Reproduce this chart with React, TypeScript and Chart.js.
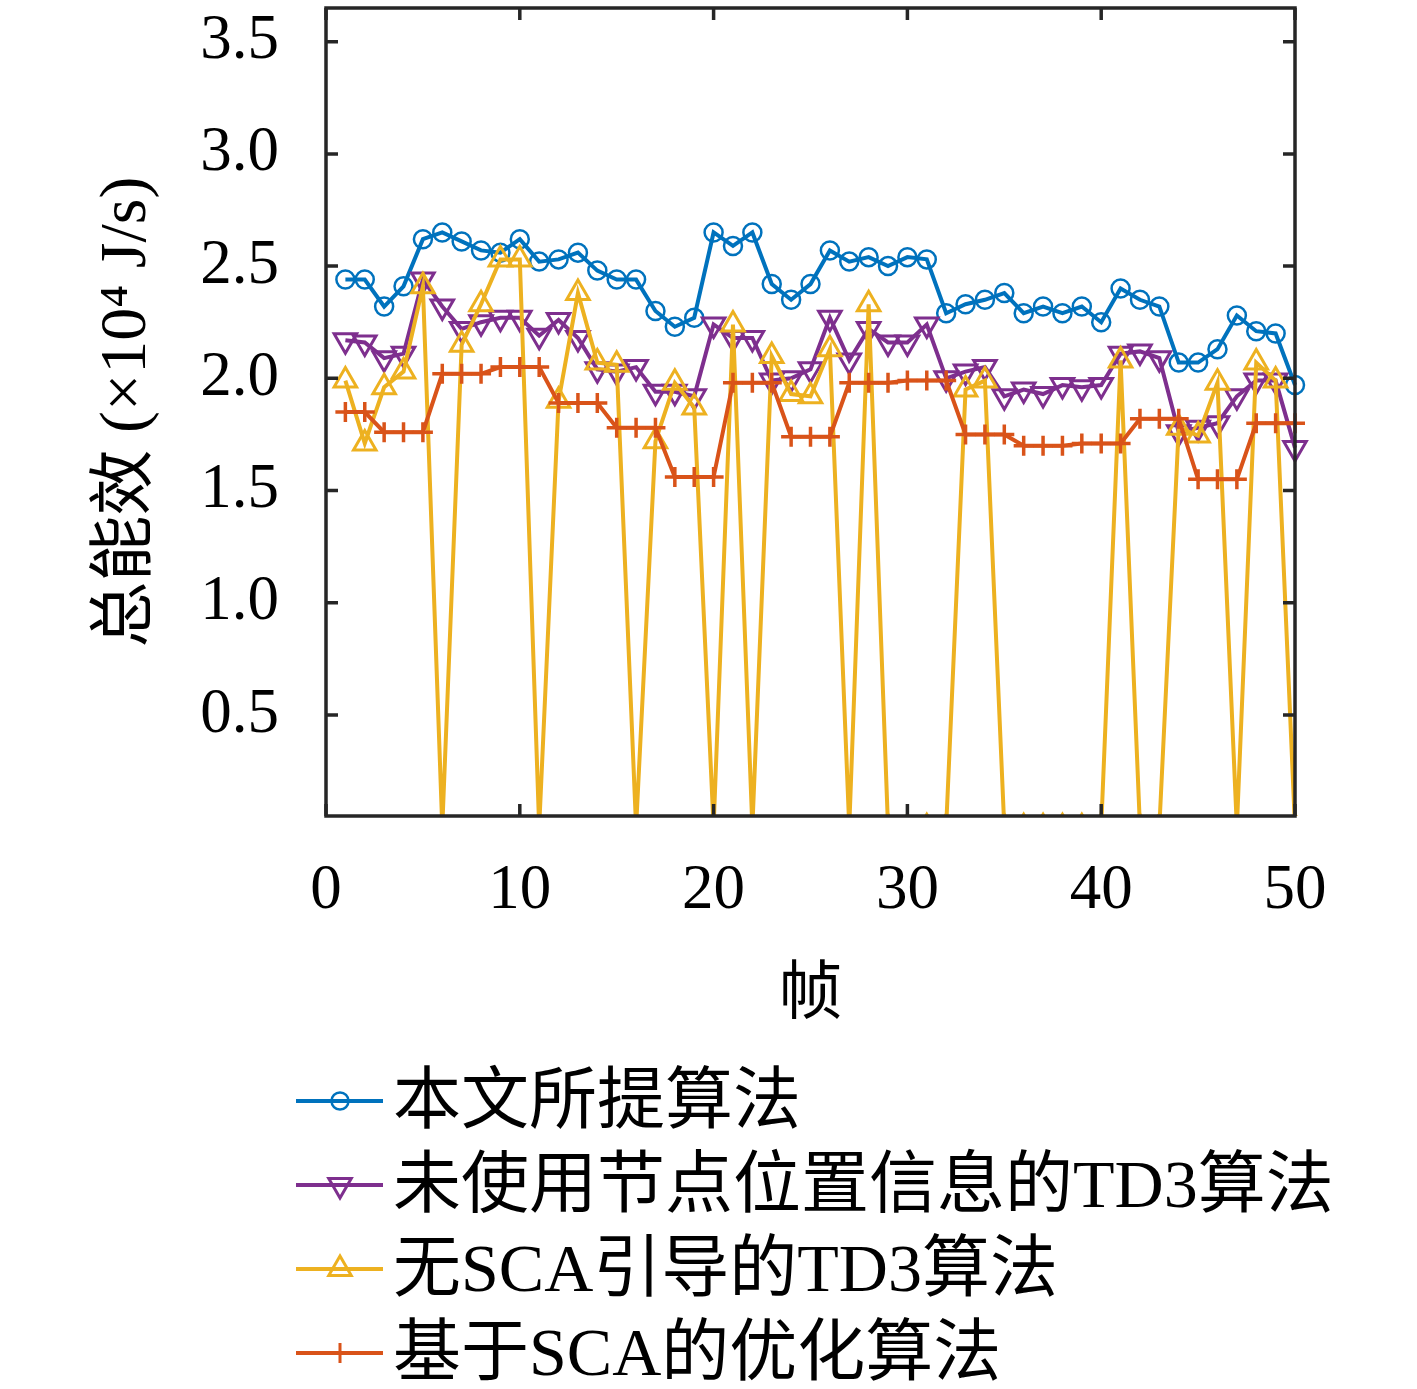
import React, { useEffect, useRef } from 'react';
import { Chart, registerables } from 'chart.js';

Chart.register(...registerables);

// ---- data ----
const frames = [
  1, 2, 3, 4, 5, 6, 7, 8, 9, 10, 11, 12, 13, 14, 15, 16, 17, 18, 19, 20,
  21, 22, 23, 24, 25, 26, 27, 28, 29, 30, 31, 32, 33, 34, 35, 36, 37, 38, 39, 40,
  41, 42, 43, 44, 45, 46, 47, 48, 49, 50,
];

const proposed = [
  2.44, 2.44, 2.32, 2.41, 2.62, 2.65, 2.61, 2.57, 2.56, 2.62,
  2.52, 2.53, 2.56, 2.48, 2.44, 2.44, 2.30, 2.23, 2.27, 2.65,
  2.59, 2.65, 2.42, 2.35, 2.42, 2.57, 2.52, 2.54, 2.50, 2.54,
  2.53, 2.29, 2.33, 2.35, 2.38, 2.29, 2.32, 2.29, 2.32, 2.25,
  2.40, 2.35, 2.32, 2.07, 2.07, 2.13, 2.28, 2.21, 2.20, 1.97,
];

const noPosition = [
  2.17, 2.16, 2.09, 2.11, 2.44, 2.32, 2.22, 2.25, 2.27, 2.27,
  2.19, 2.26, 2.18, 2.04, 2.03, 2.05, 1.94, 1.94, 1.92, 2.24,
  2.18, 2.18, 1.99, 2.00, 2.04, 2.27, 2.08, 2.22, 2.16, 2.16,
  2.24, 2.00, 2.03, 2.05, 1.92, 1.95, 1.93, 1.97, 1.96, 1.97,
  2.11, 2.12, 2.09, 1.76, 1.78, 1.80, 1.92, 1.99, 1.99, 1.69,
];

const noSCA = [
  1.99, 1.71, 1.96, 2.03, 2.41, 0, 2.15, 2.33, 2.53, 2.53,
  0, 1.90, 2.38, 2.07, 2.06, 0, 1.72, 1.98, 1.87, 0,
  2.24, 0, 2.10, 1.93, 1.92, 2.13, 0, 2.33, 0, 0,
  0, 0, 1.95, 1.99, 0, 0, 0, 0, 0, 0,
  2.08, 0, 0, 1.78, 1.745, 1.98, 0, 2.07, 1.99, 0,
];

const scaBased = [
  1.85, 1.85, 1.76, 1.76, 1.76, 2.02, 2.02, 2.02, 2.05, 2.05,
  2.05, 1.89, 1.89, 1.89, 1.78, 1.78, 1.78, 1.56, 1.56, 1.56,
  1.98, 1.98, 1.98, 1.74, 1.74, 1.74, 1.98, 1.98, 1.98, 1.99,
  1.99, 1.99, 1.75, 1.75, 1.75, 1.70, 1.70, 1.70, 1.71, 1.71,
  1.71, 1.82, 1.82, 1.82, 1.55, 1.55, 1.55, 1.80, 1.80, 1.80,
];

const seriesLabels = [
  '本文所提算法',
  '未使用节点位置信息的TD3算法',
  '无SCA引导的TD3算法',
  '基于SCA的优化算法',
];

const xTicks = [0, 10, 20, 30, 40, 50];
const yTicks = [0.5, 1.0, 1.5, 2.0, 2.5, 3.0, 3.5];
const xTitle = '帧';
const yTitle = '总能效 (×10⁴ J/s)';

// ---- style ----
const W = 1417;
const H = 1389;
const PLOT_LEFT = 326;
const PLOT_RIGHT = 1295;
const PLOT_TOP = 8;
const PLOT_BOTTOM = 816;
const X_AXIS_H = 230;
const FONT = '"Liberation Serif", "Noto Sans CJK SC", serif';
const AXIS_COLOR = '#262626';

const COLORS = ['#0072BD', '#7E2F8E', '#EDB120', '#D95319'];
const MARKERS = ['circle', 'triangleDown', 'triangleUp', 'cross'];

function drawMarker(ctx: CanvasRenderingContext2D, style: string, x: number, y: number, r: number, color: string, lw: number) {
  ctx.save();
  ctx.strokeStyle = color;
  ctx.lineWidth = lw;
  ctx.beginPath();
  if (style === 'circle') {
    ctx.arc(x, y, r, 0, Math.PI * 2);
  } else if (style === 'triangleUp') {
    ctx.moveTo(x, y - r);
    ctx.lineTo(x + r * 0.866, y + r / 2);
    ctx.lineTo(x - r * 0.866, y + r / 2);
    ctx.closePath();
  } else if (style === 'triangleDown') {
    ctx.moveTo(x, y + r);
    ctx.lineTo(x + r * 0.866, y - r / 2);
    ctx.lineTo(x - r * 0.866, y - r / 2);
    ctx.closePath();
  } else if (style === 'cross') {
    ctx.moveTo(x - r, y);
    ctx.lineTo(x + r, y);
    ctx.moveTo(x, y - r);
    ctx.lineTo(x, y + r);
  }
  ctx.stroke();
  ctx.restore();
}

// Pin the plotting rectangle to the reference position.
const areaPlugin = {
  id: 'pinArea',
  afterLayout(chart: any) {
    const a = chart.chartArea;
    a.left = PLOT_LEFT;
    a.right = PLOT_RIGHT;
    a.top = PLOT_TOP;
    a.bottom = PLOT_BOTTOM;
    a.width = PLOT_RIGHT - PLOT_LEFT;
    a.height = PLOT_BOTTOM - PLOT_TOP;
    const xs = chart.scales.x;
    const ys = chart.scales.y;
    xs.left = PLOT_LEFT;
    xs.right = PLOT_RIGHT;
    xs.width = PLOT_RIGHT - PLOT_LEFT;
    xs.top = PLOT_BOTTOM;
    xs.bottom = PLOT_BOTTOM + X_AXIS_H;
    xs.configure();
    ys.top = PLOT_TOP;
    ys.bottom = PLOT_BOTTOM;
    ys.height = PLOT_BOTTOM - PLOT_TOP;
    ys.left = 0;
    ys.right = PLOT_LEFT;
    ys.configure();
  },
};

const framePlugin = {
  id: 'frameBox',
  afterDatasetsDraw(chart: any) {
    const { ctx, chartArea: a, scales } = chart;
    const xs = scales.x;
    const ys = scales.y;
    ctx.save();
    ctx.strokeStyle = AXIS_COLOR;
    ctx.lineWidth = 3.5;
    ctx.lineJoin = 'miter';
    ctx.strokeRect(a.left, a.top, a.right - a.left, a.bottom - a.top);
    const TL = 12;
    ctx.beginPath();
    for (const v of xTicks) {
      const px = xs.getPixelForValue(v);
      ctx.moveTo(px, a.bottom);
      ctx.lineTo(px, a.bottom - TL);
      ctx.moveTo(px, a.top);
      ctx.lineTo(px, a.top + TL);
    }
    for (const v of yTicks) {
      const py = ys.getPixelForValue(v);
      ctx.moveTo(a.left, py);
      ctx.lineTo(a.left + TL, py);
      ctx.moveTo(a.right, py);
      ctx.lineTo(a.right - TL, py);
    }
    ctx.stroke();
    ctx.restore();
  },
};

const legendPlugin = {
  id: 'customLegend',
  afterDraw(chart: any) {
    const { ctx } = chart;
    const rowY0 = 1101;
    const rowGap = 84;
    ctx.save();
    seriesLabels.forEach((label, i) => {
      const y = rowY0 + i * rowGap;
      ctx.strokeStyle = COLORS[i];
      ctx.lineWidth = 4;
      ctx.beginPath();
      ctx.moveTo(296, y);
      ctx.lineTo(383, y);
      ctx.stroke();
      const r = MARKERS[i] === 'circle' ? 8.5 : MARKERS[i] === 'cross' ? 10 : 13;
      drawMarker(ctx, MARKERS[i], 340, y, r, COLORS[i], MARKERS[i] === 'circle' ? 2.5 : 3);
      ctx.fillStyle = '#000';
      ctx.font = `68px ${FONT}`;
      ctx.textAlign = 'left';
      ctx.textBaseline = 'middle';
      ctx.fillText(label, 393, y + 4);
    });
    ctx.restore();
  },
};

function toPoints(values: number[]) {
  return frames.map((f, i) => ({ x: f, y: values[i] }));
}

export default function App() {
  const canvasRef = useRef<HTMLCanvasElement | null>(null);

  useEffect(() => {
    if (!canvasRef.current) return;
    const clip = { left: 0, top: 0, right: 15, bottom: 0 };
    const common = {
      borderWidth: 4,
      pointBorderWidth: 3,
      pointBackgroundColor: 'rgba(0,0,0,0)',
      tension: 0,
      clip,
      fill: false,
    };
    const chart = new Chart(canvasRef.current, {
      type: 'line',
      data: {
        datasets: [
          {
            ...common,
            label: seriesLabels[0],
            data: toPoints(proposed),
            borderColor: COLORS[0],
            pointBorderColor: COLORS[0],
            pointStyle: 'circle',
            pointRadius: 9,
            pointBorderWidth: 2.5,
            order: 3,
          },
          {
            ...common,
            label: seriesLabels[1],
            data: toPoints(noPosition),
            borderColor: COLORS[1],
            pointBorderColor: COLORS[1],
            pointStyle: 'triangle',
            pointRotation: 180,
            pointRadius: 13,
            order: 2,
          },
          {
            ...common,
            label: seriesLabels[2],
            data: toPoints(noSCA),
            borderColor: COLORS[2],
            pointBorderColor: COLORS[2],
            pointStyle: 'triangle',
            pointRadius: 13,
            order: 1,
          },
          {
            ...common,
            label: seriesLabels[3],
            data: toPoints(scaBased),
            borderColor: COLORS[3],
            pointBorderColor: COLORS[3],
            pointStyle: 'cross',
            pointRadius: 10,
            pointBorderWidth: 3.5,
            order: 0,
          },
        ],
      } as any,
      options: {
        animation: false,
        responsive: false,
        maintainAspectRatio: false,
        events: [],
        layout: {
          padding: {
            left: 0,
            top: PLOT_TOP,
            right: W - PLOT_RIGHT,
            bottom: H - PLOT_BOTTOM - X_AXIS_H,
          },
        },
        plugins: {
          legend: { display: false },
          tooltip: { enabled: false },
        },
        scales: {
          x: {
            type: 'linear',
            min: 0,
            max: 50,
            afterBuildTicks: (s: any) => {
              s.ticks = xTicks.map((v) => ({ value: v }));
            },
            afterFit: (s: any) => {
              s.height = X_AXIS_H;
              s.paddingLeft = 0;
              s.paddingRight = 0;
            },
            grid: { display: false, drawTicks: false },
            border: { display: false },
            ticks: {
              autoSkip: false,
              maxRotation: 0,
              padding: 38,
              color: '#000',
              font: { family: FONT, size: 63 },
              callback: (v: any) => String(v),
            },
            title: {
              display: true,
              text: xTitle,
              color: '#000',
              font: { family: FONT, size: 64 },
              padding: { top: 0, bottom: 11 },
            },
          },
          y: {
            type: 'linear',
            min: 0.05,
            max: 3.65,
            afterBuildTicks: (s: any) => {
              s.ticks = yTicks.map((v) => ({ value: v }));
            },
            afterFit: (s: any) => {
              s.width = PLOT_LEFT;
              s.paddingTop = 0;
              s.paddingBottom = 0;
            },
            grid: { display: false, drawTicks: false },
            border: { display: false },
            ticks: {
              autoSkip: false,
              padding: 47,
              color: '#000',
              font: { family: FONT, size: 63 },
              callback: (v: any) => Number(v).toFixed(1),
            },
            title: {
              display: true,
              text: yTitle,
              color: '#000',
              font: { family: FONT, size: 66 },
              padding: { top: 88, bottom: 0 },
            },
          },
        },
      } as any,
      plugins: [areaPlugin, framePlugin, legendPlugin],
    });
    return () => chart.destroy();
  }, []);

  return (
    <div style={{ position: 'absolute', left: 0, top: 0, width: W, height: H, background: '#fff' }}>
      <canvas ref={canvasRef} width={W} height={H} style={{ display: 'block', width: W, height: H }} />
    </div>
  );
}
